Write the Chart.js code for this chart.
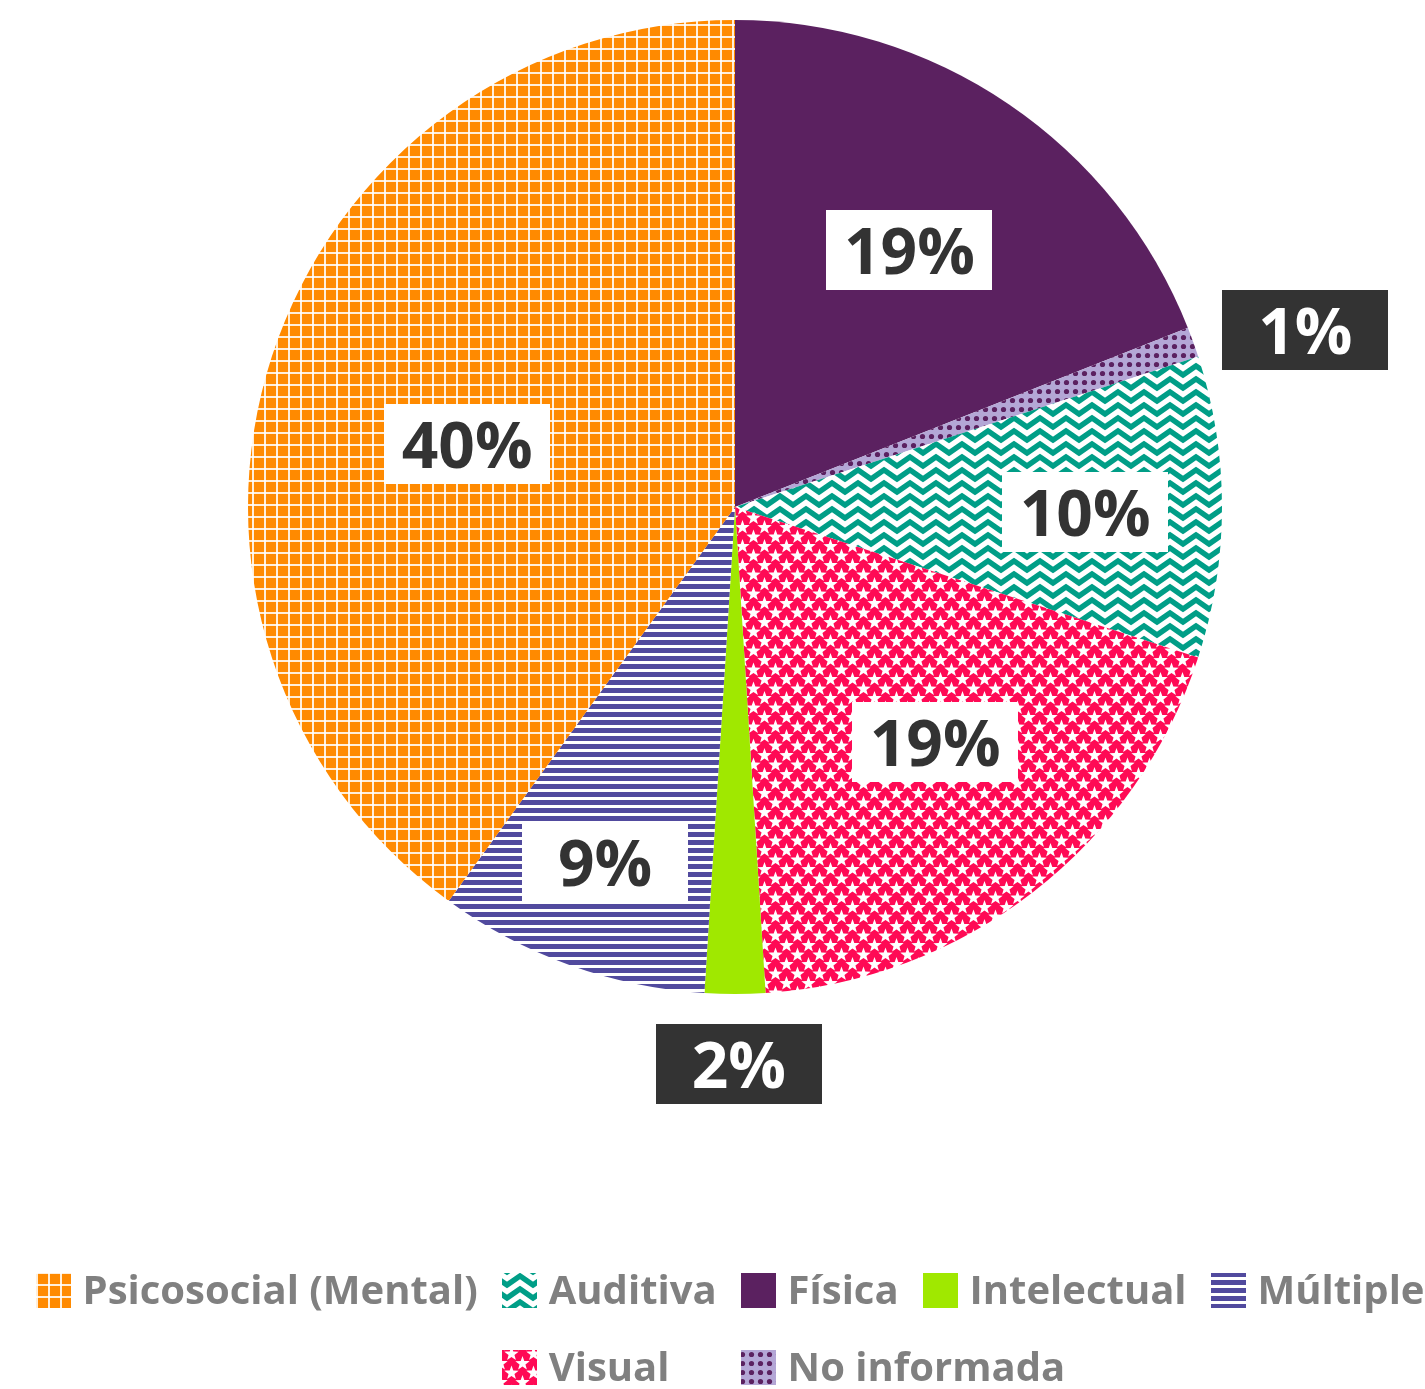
<!DOCTYPE html>
<html>
<head>
<meta charset="utf-8">
<script src="https://cdn.jsdelivr.net/npm/chart.js@4.4.1/dist/chart.umd.min.js"></script>
<style>
  html, body { margin: 0; padding: 0; background: #fff; }
</style>
</head>
<body>
<canvas id="chart" width="1425" height="1389"></canvas>
<script>
// orden de dibujo: sentido horario desde las 12
const categories = ['Física', 'No informada', 'Auditiva', 'Visual', 'Intelectual', 'Múltiple', 'Psicosocial (Mental)'];
const values = [19, 1, 10, 19, 2, 9, 40];
// orden de la leyenda
const legendOrder = ['Psicosocial (Mental)', 'Auditiva', 'Física', 'Intelectual', 'Múltiple', 'Visual', 'No informada'];

const canvas = document.getElementById('chart');
const ctx = canvas.getContext('2d');

// crea un patrón a partir de un lienzo pequeño
function makePattern(w, h, draw) {
  const c = document.createElement('canvas');
  c.width = w; c.height = h;
  const g = c.getContext('2d');
  draw(g, w, h);
  return ctx.createPattern(c, 'repeat');
}

function star(g, cx, cy, R, r) {
  g.beginPath();
  for (let k = 0; k < 10; k++) {
    const rad = k % 2 ? r : R;
    const a = -Math.PI / 2 + k * Math.PI / 5;
    g.lineTo(cx + Math.cos(a) * rad, cy + Math.sin(a) * rad);
  }
  g.closePath();
  g.fill();
}

const solidPurple = '#5b2160';
const solidLime = '#a0e800';

const gridOrange = makePattern(12, 12, (g, w, h) => {
  g.fillStyle = '#ff8a00';
  g.fillRect(0, 0, w, h);
  g.fillStyle = 'rgba(255,255,255,0.85)';
  g.fillRect(0, 0, w, 2);
  g.fillRect(0, 0, 2, h);
});

const stripesBlue = makePattern(8, 8, (g, w, h) => {
  g.fillStyle = '#ffffff';
  g.fillRect(0, 0, w, h);
  g.fillStyle = '#514a9e';
  g.fillRect(0, 0, w, 5);
});

const zigzagTeal = makePattern(26, 13, (g, w, h) => {
  g.fillStyle = '#ffffff';
  g.fillRect(0, 0, w, h);
  g.strokeStyle = '#009e87';
  g.lineWidth = 5.5;
  g.lineJoin = 'miter';
  [-13, 0, 13].forEach(off => {
    g.beginPath();
    for (let x = -13, k = 0; x <= 39; x += 13, k++) {
      g.lineTo(x, off + 2 + (k % 2 ? 0 : 9));
    }
    g.stroke();
  });
});

const starsRed = makePattern(22, 19, (g, w, h) => {
  g.fillStyle = '#ff0a55';
  g.fillRect(0, 0, w, h);
  g.fillStyle = '#ffffff';
  [[5.5, 5], [16.5, 14.5]].forEach(([sx, sy]) => {
    [-w, 0, w].forEach(dx => [-h, 0, h].forEach(dy => star(g, sx + dx, sy + dy, 7.5, 3.1)));
  });
});

const dotsLilac = makePattern(9, 9, (g, w, h) => {
  g.fillStyle = '#b4a7d6';
  g.fillRect(0, 0, w, h);
  g.fillStyle = '#5b2160';
  g.beginPath();
  g.arc(4.5, 4.5, 2.6, 0, Math.PI * 2);
  g.fill();
});

const fills = [solidPurple, dotsLilac, zigzagTeal, starsRed, solidLime, stripesBlue, gridOrange];

// etiquetas de porcentaje en cajas
const pctLabels = {
  id: 'pctLabels',
  afterDatasetsDraw(chart, args, opts) {
    const c = chart.ctx;
    const meta = chart.getDatasetMeta(0);
    c.save();
    c.font = 'bold 64px "Open Sans"';
    c.textAlign = 'center';
    c.textBaseline = 'alphabetic';
    meta.data.forEach((arc, i) => {
      const p = arc.getProps(['x', 'y', 'startAngle', 'endAngle', 'outerRadius'], true);
      const a = (p.startAngle + p.endAngle) / 2 + opts.shift[i] * Math.PI / 180;
      const r = p.outerRadius * opts.radius[i];
      const cx = p.x + Math.cos(a) * r;
      const cy = p.y + Math.sin(a) * r;
      const outside = opts.radius[i] > 1;
      c.fillStyle = outside ? '#333333' : '#ffffff';
      c.fillRect(Math.round(cx - 83), Math.round(cy - 40), 166, 80);
      c.fillStyle = outside ? '#ffffff' : '#333333';
      c.fillText(chart.data.datasets[0].data[i] + '%', cx, cy + 24);
    });
    c.restore();
  }
};

// leyenda en columnas, como en el original
const gridLegend = {
  id: 'gridLegend',
  afterDraw(chart, args, opts) {
    const c = chart.ctx;
    const ds = chart.data.datasets[0];
    c.save();
    c.font = 'bold 40px "Open Sans"';
    c.textBaseline = 'alphabetic';
    c.textAlign = 'left';
    const items = legendOrder.map(name => {
      const i = chart.data.labels.indexOf(name);
      return { text: name, fill: ds.backgroundColor[i], w: opts.box + opts.textGap + c.measureText(name).width };
    });
    const first = items.slice(0, opts.perRow);
    const total = first.reduce((s, it) => s + it.w, 0) + opts.gap * (first.length - 1);
    const mid = (chart.chartArea.left + chart.chartArea.right) / 2 + opts.dx;
    const cols = [];
    let x = mid - total / 2;
    first.forEach(it => { cols.push(x); x += it.w + opts.gap; });
    for (let row = 0; row * opts.perRow < items.length; row++) {
      const rowItems = items.slice(row * opts.perRow, (row + 1) * opts.perRow);
      const startCol = Math.floor((opts.perRow - rowItems.length) / 2);
      const yc = chart.chartArea.bottom + opts.top + row * opts.rowHeight;
      rowItems.forEach((it, k) => {
        const bx = cols[startCol + k];
        c.fillStyle = it.fill;
        c.fillRect(Math.round(bx), Math.round(yc - opts.box / 2), opts.box, opts.box);
        c.fillStyle = '#808080';
        c.fillText(it.text, bx + opts.box + opts.textGap, yc + 14);
      });
    }
    c.restore();
  }
};

new Chart(ctx, {
  type: 'pie',
  data: {
    labels: categories,
    datasets: [{
      data: values,
      backgroundColor: fills,
      borderWidth: 0,
      hoverOffset: 0
    }]
  },
  options: {
    responsive: false,
    animation: false,
    layout: { padding: { top: 20, left: 45, right: 0, bottom: 395 } },
    plugins: {
      legend: { display: false },
      tooltip: { enabled: false },
      pctLabels: {
        radius: [0.637, 1.226, 0.719, 0.634, 1.144, 0.776, 0.565],
        shift: [0, 2.6, 0.8, -2.6, -0.4, 0.3, -4.8]
      },
      gridLegend: { box: 35, textGap: 12, gap: 24, perRow: 5, top: 296, rowHeight: 77, dx: -5 }
    }
  },
  plugins: [pctLabels, gridLegend]
});
</script>
</body>
</html>
